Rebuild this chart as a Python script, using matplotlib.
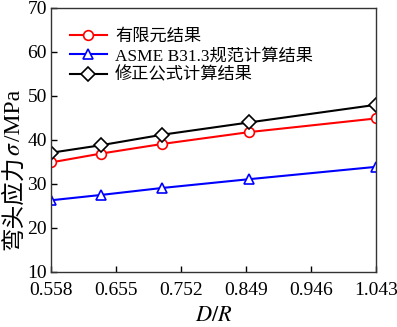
import matplotlib
matplotlib.use("Agg")
import matplotlib.pyplot as plt

# data
dr = [0.558, 0.632, 0.724, 0.854, 1.043]
fem = [34.9, 36.9, 39.1, 41.8, 44.9]
asme = [26.3, 27.5, 29.1, 31.1, 33.9]
corrected = [37.1, 38.8, 41.2, 44.0, 48.0]
labels = ["有限元结果", "ASME B31.3规范计算结果", "修正公式计算结果"]
xticks = [0.558, 0.655, 0.752, 0.849, 0.946, 1.043]
yticks = [10, 20, 30, 40, 50, 60, 70]

fam = ["Liberation Serif", "Noto Sans CJK SC"]
plt.rcParams["font.family"] = fam
plt.rcParams["mathtext.fontset"] = "stix"

fig = plt.figure(figsize=(3.97, 3.27), dpi=100)
ax = fig.add_axes([51 / 397, 1 - 272 / 327, 325 / 397, 264 / 327])

style = dict(lw=1.5, ms=7, mfc="white", mew=1.2)
ax.plot(dr, fem, "-o", color="red", label=labels[0], **style)
ax.plot(dr, asme, "-^", color="blue", label=labels[1], **style)
ax.plot(dr, corrected, "-D", color="black", label=labels[2], **dict(style, ms=7.5))

ax.set_xlim(0.558, 1.043)
ax.set_ylim(10, 70)
ax.set_xticks(xticks)
ax.set_xticklabels([f"{v:.3f}" for v in xticks])
ax.set_yticks(yticks)
ax.tick_params(direction="in", labelsize=14, length=4, width=1)
ax.tick_params(axis="x", pad=7)
ax.tick_params(axis="y", pad=3)
for s in ax.spines.values():
    s.set_linewidth(1)
    s.set_color("#333333")

ax.set_xlabel("$D/R$", fontsize=16, labelpad=6)

# y label in pieces so sigma can be italic
t1 = fig.text(14 / 397, 1 - 250 / 327, "弯头应力", rotation=90, fontsize=17,
              family=["Noto Sans CJK SC"], ha="center", va="bottom")
t2 = ax.annotate("$\\sigma$", xy=(0.5, 1), xycoords=t1, rotation=90, fontsize=17,
                 ha="center", va="bottom")
t3 = ax.annotate("/MPa", xy=(0.5, 1), xycoords=t2, rotation=90, fontsize=17,
                 ha="center", va="bottom", family=fam)

ax.legend(loc="upper left", frameon=False, handlelength=2.15,
          borderaxespad=0, borderpad=0, bbox_to_anchor=(0.058, 0.92),
          labelspacing=0.17, handletextpad=0.47,
          prop={"family": fam, "size": 12.4})

fig.savefig("out.png", dpi=100)
